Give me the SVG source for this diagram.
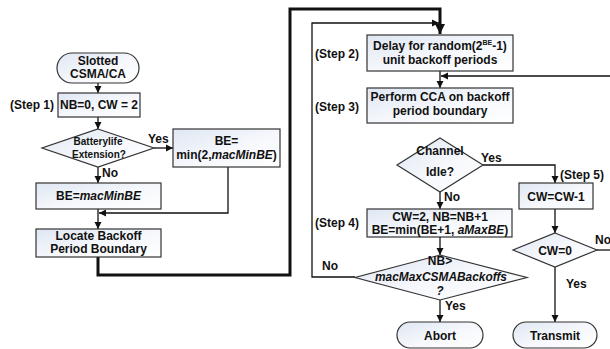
<svg xmlns="http://www.w3.org/2000/svg" width="610" height="349" viewBox="0 0 610 349">
<defs>
<linearGradient id="g" x1="0" y1="0" x2="1" y2="1">
<stop offset="0" stop-color="#dfe7f3"/>
<stop offset="0.55" stop-color="#f6f8fc"/>
<stop offset="1" stop-color="#ffffff"/>
</linearGradient>
<marker id="a" markerUnits="userSpaceOnUse" markerWidth="8" markerHeight="8" refX="7" refY="4" orient="auto">
<path d="M0,0.5 L7,4 L0,7.5 Z" fill="#111"/>
</marker>
<marker id="A" markerUnits="userSpaceOnUse" markerWidth="11" markerHeight="11" refX="10" refY="5.5" orient="auto">
<path d="M0,0.5 L10,5.5 L0,10.5 Z" fill="#111"/>
</marker>
</defs>
<style>
.n{fill:url(#g);stroke:#333;stroke-width:1.2}
.t{font-family:"Liberation Sans",Arial,sans-serif;font-weight:bold;font-size:12px;fill:#111;text-anchor:middle}
.l{font-family:"Liberation Sans",Arial,sans-serif;font-weight:bold;font-size:12px;fill:#111}
.s{font-size:10px}
.i{font-style:italic}
.c{fill:none;stroke:#111;stroke-width:1.3}
.k{fill:none;stroke:#111;stroke-width:3}
</style>
<g id="connectors">
<path class="c" d="M98,83 V93" marker-end="url(#a)"/>
<path class="c" d="M98,117 V129" marker-end="url(#a)"/>
<path class="c" d="M154,148 H173" marker-end="url(#a)"/>
<path class="c" d="M98,167 V183" marker-end="url(#a)"/>
<path class="c" d="M228,167 V213 H99" marker-end="url(#a)"/>
<path class="c" d="M98,209 V229" marker-end="url(#a)"/>
<path class="k" d="M98,257 V275 H290 V9 H440 V34" marker-end="url(#A)"/>
<path class="c" d="M355,277 H312 V23 H439" marker-end="url(#a)"/>
<path class="c" d="M440,71 V88" marker-end="url(#a)"/>
<path class="c" d="M612,76 H441" marker-end="url(#a)"/>
<path class="c" d="M483,165 H555 V183" marker-end="url(#a)"/>
<path class="c" d="M440,192 V209" marker-end="url(#a)"/>
<path class="c" d="M440,237 V255" marker-end="url(#a)"/>
<path class="c" d="M440,300 V322" marker-end="url(#a)"/>
<path class="c" d="M555,209 V233" marker-end="url(#a)"/>
<path class="c" d="M597,250 H612"/>
<path class="c" d="M555,267 V322" marker-end="url(#a)"/>
</g>
<g id="labels">
<text class="l" x="10" y="109">(Step 1)</text>
<text class="l" x="148" y="143">Yes</text>
<text class="l" x="102" y="177">No</text>
<text class="l" x="315" y="58">(Step 2)</text>
<text class="l" x="315" y="111">(Step 3)</text>
<text class="l" x="481" y="162">Yes</text>
<text class="l" x="560" y="179">(Step 5)</text>
<text class="l" x="444" y="201">No</text>
<text class="l" x="315" y="227">(Step 4)</text>
<text class="l" x="322" y="270">No</text>
<text class="l" x="445" y="310">Yes</text>
<text class="l" x="595" y="244">No</text>
<text class="l" x="566" y="288">Yes</text>
</g>
<g id="start">
<rect class="n" x="57" y="53" width="82" height="30" rx="15"/>
<text class="t" x="98" y="65">Slotted</text>
<text class="t" x="98" y="78">CSMA/CA</text>
</g>
<g id="step1">
<rect class="n" x="58" y="93" width="82" height="24"/>
<text class="t" x="99" y="109">NB=0, CW = 2</text>
</g>
<g id="battery">
<path class="n" d="M98,129 L154,148 L98,167 L42,148 Z"/>
<text class="t s" x="98" y="145">Batterylife</text>
<text class="t s" x="99" y="158">Extension?</text>
</g>
<g id="beMin2">
<rect class="n" x="173" y="129" width="107" height="38"/>
<text class="t" x="226.5" y="145">BE=</text>
<text class="t" x="226.5" y="159">min(2,<tspan class="i">macMinBE</tspan>)</text>
</g>
<g id="beMin">
<rect class="n" x="36" y="183" width="125" height="26"/>
<text class="t" x="98.5" y="200">BE=<tspan class="i">macMinBE</tspan></text>
</g>
<g id="locate">
<rect class="n" x="36" y="229" width="125" height="28"/>
<text class="t" x="98.5" y="240">Locate Backoff</text>
<text class="t" x="98.5" y="253">Period Boundary</text>
</g>
<g id="step2">
<rect class="n" x="367" y="35" width="146" height="36"/>
<text class="t" x="440" y="50">Delay for random(2<tspan font-size="7px" dy="-5">BE</tspan><tspan dy="5">-1)</tspan></text>
<text class="t" x="440" y="64">unit backoff periods</text>
</g>
<g id="step3">
<rect class="n" x="367" y="88" width="146" height="35"/>
<text class="t" x="440" y="101">Perform CCA on backoff</text>
<text class="t" x="440" y="115">period boundary</text>
</g>
<g id="idle">
<path class="n" d="M440,138 L483,165 L440,192 L397,165 Z"/>
<text class="t" x="440" y="155">Channel</text>
<text class="t" x="440" y="176">Idle?</text>
</g>
<g id="step4">
<rect class="n" x="367" y="209" width="145" height="28"/>
<text class="t" x="440" y="221">CW=2, NB=NB+1</text>
<text class="t" x="440" y="234">BE=min(BE+1, <tspan class="i">aMaxBE</tspan>)</text>
</g>
<g id="nbCheck">
<path class="n" d="M440,255 L527,277.5 L440,300 L355,277.5 Z"/>
<text class="t" x="440" y="265">NB&gt;</text>
<text class="t i" x="441" y="281" textLength="132" lengthAdjust="spacingAndGlyphs">macMaxCSMABackoffs</text>
<text class="t i" x="440" y="295">?</text>
</g>
<g id="abort">
<rect class="n" x="397" y="322" width="86" height="26" rx="13"/>
<text class="t" x="440" y="340">Abort</text>
</g>
<g id="step5">
<rect class="n" x="519" y="183" width="74" height="26"/>
<text class="t" x="556" y="201">CW=CW-1</text>
</g>
<g id="cw0">
<path class="n" d="M555,233 L597,250 L555,267 L513,250 Z"/>
<text class="t" x="555" y="255">CW=0</text>
</g>
<g id="transmit">
<rect class="n" x="513" y="322" width="84" height="26" rx="13"/>
<text class="t" x="555" y="340">Transmit</text>
</g>
</svg>
